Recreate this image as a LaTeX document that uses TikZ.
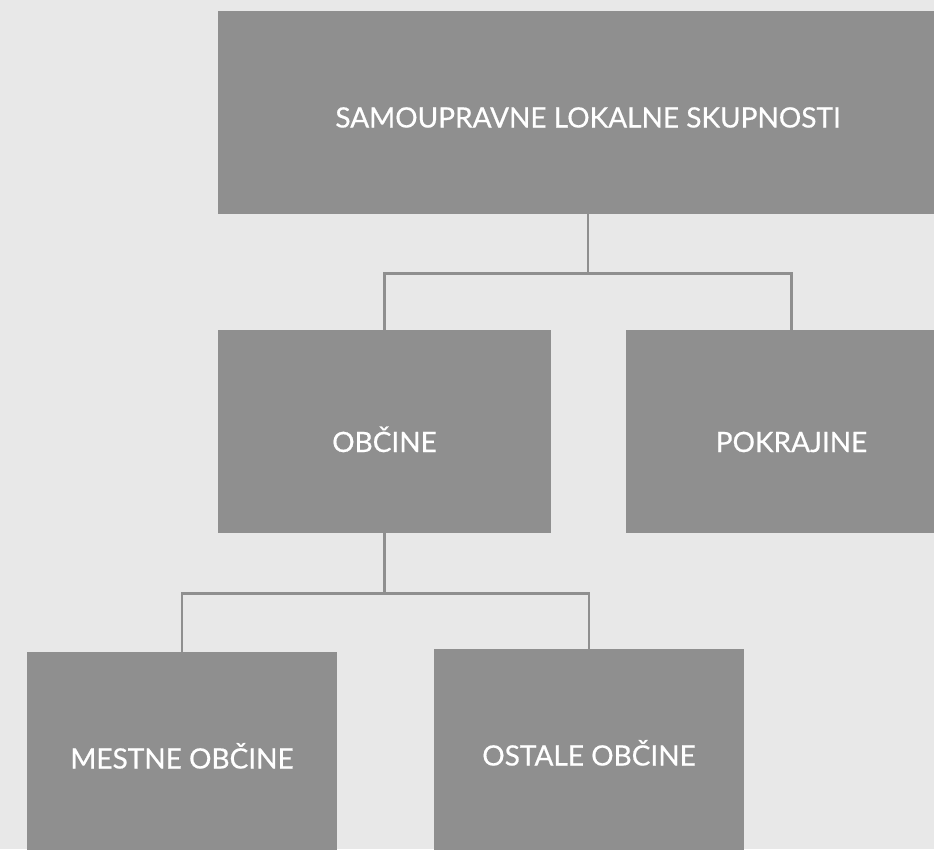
\documentclass[tikz,border=0pt]{standalone}
\usepackage{fontspec}
\setmainfont{Lato}[FakeBold=0.6]
\usepackage{xcolor}
\definecolor{boxgray}{HTML}{8F8F8F}
\definecolor{paper}{HTML}{E8E8E8}

\begin{document}
\begin{tikzpicture}[x=1pt, y=-1pt, font=\fontsize{28}{34}\selectfont,
  unit/.style={fill=boxgray, text=white, align=center, inner sep=0pt,
    minimum height=203pt, text depth=0pt, text height=30pt},
  link/.style={draw=boxgray, line width=2.7pt},
]
\useasboundingbox (0,0) rectangle (934,849);
\clip (0,0) rectangle (934,849);
\fill[paper] (0,0) rectangle (934,849);

\node[unit, minimum width=740pt] (lokalne) at (588, 112.5) {SAMOUPRAVNE LOKALNE SKUPNOSTI};
\node[unit, minimum width=333pt, text height=41pt] (obcine) at (384.5, 431.5) {OBČINE};
\node[unit, minimum width=331pt, text height=41pt] (pokrajine) at (791.5, 431.5) {POKRAJINE};
\node[unit, minimum width=310pt] (mestne) at (182, 753.5) {MESTNE OBČINE};
\node[unit, minimum width=310pt] (ostale) at (589, 750.5) {OSTALE OBČINE};

\draw[link] (lokalne.south) -- ++(0,59) -| (obcine.north);
\draw[link] (lokalne.south) -- ++(0,59) -| (pokrajine.north);
\draw[link] (obcine.south) -- ++(0,60) -| (mestne.north);
\draw[link] (obcine.south) -- ++(0,60) -| (ostale.north);
\end{tikzpicture}
\end{document}
